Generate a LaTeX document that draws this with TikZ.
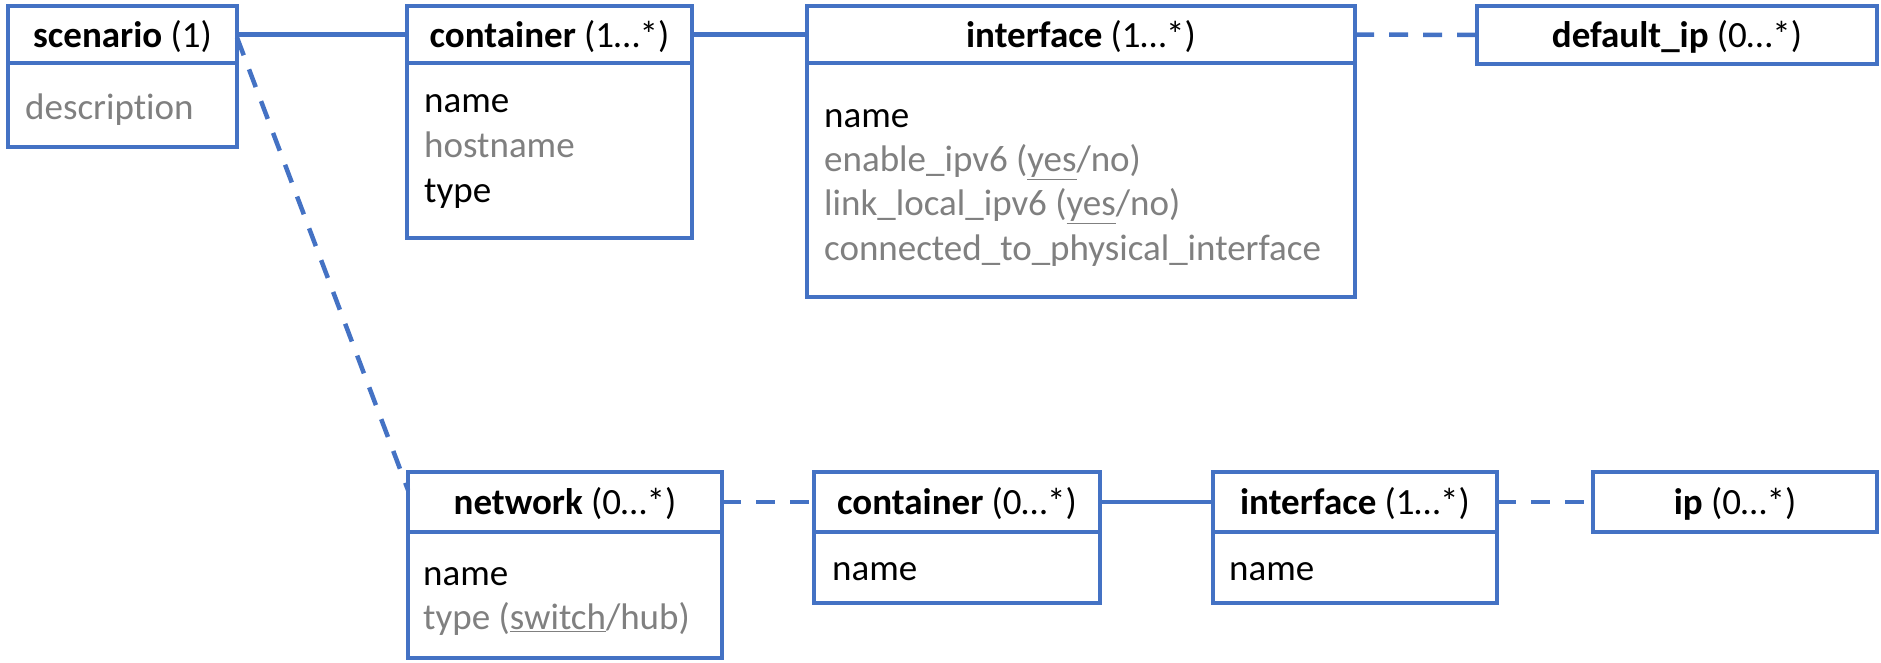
\documentclass[tikz,border=0pt]{standalone}
\usepackage{fontspec}
\setmainfont{Carlito}[Ligatures=NoCommon]
\definecolor{eblue}{HTML}{4472C4}
\definecolor{optgray}{HTML}{808080}
\begin{document}
\begin{tikzpicture}[x=1pt,y=-1pt,
  every node/.style={font=\fontsize{37}{44}\selectfont},
  ent/.style={draw=eblue, line width=4.5pt, fill=white, inner sep=0pt, outer sep=0pt, anchor=north west, text height=34pt, text depth=9pt},
  attr/.style={anchor=west, inner sep=0pt, text height=34pt, text depth=9pt},
  opt/.style={attr, text=optgray},
  link/.style={draw=eblue, line width=4.5pt},
  dlink/.style={link, dash pattern=on 19pt off 15pt}]
\useasboundingbox (0,0) rectangle (1881,662);
% scenario
\node[ent, minimum width=229pt, minimum height=84pt] (scb) at (8,63) {};
\node[ent, minimum width=229pt, minimum height=57pt] (sc) at (8,6) {\textbf{scenario} (1)};
\node[opt] (scd) at (25,107) {description};
% container (top)
\node[ent, minimum width=285pt, minimum height=175pt] (cab) at (407,63) {};
\node[ent, minimum width=285pt, minimum height=57pt] (ca) at (407,6) {\textbf{container} (1…*)};
\node[attr] (ca1) at (424,100) {name};
\node[opt] (ca2) at (424,145) {hostname};
\node[attr] (ca3) at (424,190) {type};
% interface (top)
\node[ent, minimum width=548pt, minimum height=234pt] (iab) at (807,63) {};
\node[ent, minimum width=548pt, minimum height=57pt] (ia) at (807,6) {\textbf{interface} (1…*)};
\node[attr] (ia1) at (824,115) {name};
\node[opt] (ia2) at (824,159) {enable\_ipv6 (\underline{yes}/no)};
\node[opt] (ia3) at (824,203) {link\_local\_ipv6 (\underline{yes}/no)};
\node[opt] (ia4) at (824,248) {connected\_to\_physical\_interface};
% default_ip
\node[ent, minimum width=400pt, minimum height=58pt] (dip) at (1477,6) {\textbf{default\_ip} (0…*)};
% network
\node[ent, minimum width=314pt, minimum height=126pt] (netb) at (408,532) {};
\node[ent, minimum width=314pt, minimum height=60pt] (net) at (408,472) {\textbf{network} (0…*)};
\node[attr] (net1) at (423,573) {name};
\node[opt] (net2) at (423,617) {type (\underline{switch}/hub)};
% container (bottom)
\node[ent, minimum width=286pt, minimum height=71pt] (cbb) at (814,532) {};
\node[ent, minimum width=286pt, minimum height=60pt] (cb) at (814,472) {\textbf{container} (0…*)};
\node[attr] (cb1) at (832,568) {name};
% interface (bottom)
\node[ent, minimum width=284pt, minimum height=71pt] (ibb) at (1213,532) {};
\node[ent, minimum width=284pt, minimum height=60pt] (ib) at (1213,472) {\textbf{interface} (1…*)};
\node[attr] (ib1) at (1229,568) {name};
% ip
\node[ent, minimum width=284pt, minimum height=60pt] (ip) at (1593,472) {\textbf{ip} (0…*)};
% connectors
\draw[link] (sc.east) -- (ca.west);
\draw[link] (ca.east) -- (ia.west);
\draw[dlink] (ia.east) -- (dip.west);
\draw[dlink] ([yshift=-3pt]sc.east) -- ([yshift=12pt]net.west);
\draw[dlink] (net.east) -- (cb.west);
\draw[link] (cb.east) -- (ib.west);
\draw[dlink] (ib.east) -- (ip.west);
\end{tikzpicture}
\end{document}
